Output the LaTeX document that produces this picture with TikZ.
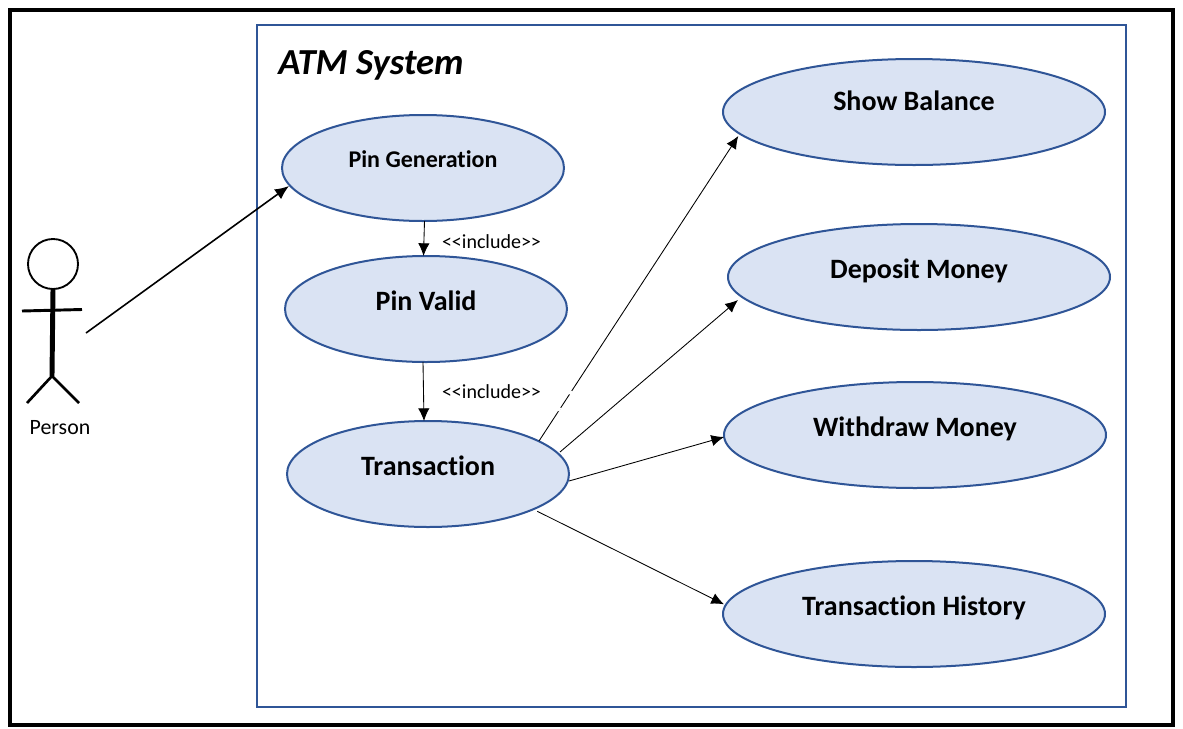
\documentclass[tikz,border=0pt]{standalone}
\usepackage{fontspec}
\setmainfont[Ligatures=NoCommon]{Carlito}
\usetikzlibrary{arrows.meta,shapes.geometric}
\definecolor{ubord}{HTML}{2F5597}
\definecolor{ufill}{HTML}{DAE3F3}
\tikzset{
  x=0.75pt,y=-0.75pt,
  usecase/.style={draw=ubord,fill=ufill,ellipse,line width=1.5pt,inner sep=0pt,outer sep=0pt,minimum height=79.5pt},
  smallcase/.style={usecase,minimum width=211.5pt},
  bigcase/.style={usecase,minimum width=286.5pt},
  cap18/.style={font=\fontsize{21}{24}\selectfont\bfseries,inner sep=0pt},
  cap16/.style={font=\fontsize{18}{20}\selectfont\bfseries,inner sep=0pt},
  plain12/.style={font=\fontsize{15}{18}\selectfont,inner sep=0pt},
  conn/.style={-{Latex[length=9.5pt,width=8.5pt]},line width=0.65pt,black},
  connthick/.style={-{Latex[length=10.5pt,width=9pt]},line width=1.2pt,black},
  gapmark/.style={white,line width=1.6pt},
}
\begin{document}
\begin{tikzpicture}
\useasboundingbox (0,0) rectangle (1183,729);
\fill[white] (0,0) rectangle (1183,729);
\node[draw=black,line width=3.4pt,minimum width=1163*0.75pt,minimum height=715*0.75pt,inner sep=0pt,outer sep=0pt,anchor=north west] (frame) at (10,10) {};
\node[draw=ubord,line width=1.4pt,minimum width=869*0.75pt,minimum height=682*0.75pt,inner sep=0pt,outer sep=0pt,anchor=north west] (system) at (257,25) {};
\node[font=\fontsize{27.5}{30}\selectfont\bfseries\itshape,inner sep=0pt,anchor=west] (title) at (278,65) {ATM System};

\node[smallcase] (pg) at (423,168) {};
\node[smallcase] (pv) at (426,309) {};
\node[smallcase] (tr) at (428,474) {};
\node[bigcase] (sb) at (914,112) {};
\node[bigcase] (dm) at (919,277) {};
\node[bigcase] (wm) at (915,435) {};
\node[bigcase] (th) at (914,614) {};

\node[cap16] (pgt) at (423,159) {Pin Generation};
\node[cap18] (pvt) at (426,301) {Pin Valid};
\node[cap18] (trt) at (428,466) {Transaction};
\node[cap18] (sbt) at (914,101) {Show Balance};
\node[cap18] (dmt) at (919,271) {Deposit Money};
\node[cap18] (wmt) at (915,429) {Withdraw Money};
\node[cap18] (tht) at (914,608) {Transaction History};
\node[plain12] (inc1) at (491.5,242) {<{}<include>{}>};
\node[plain12] (inc2) at (491.5,392) {<{}<include>{}>};

% actor
\node[draw=black,circle,line width=1.4pt,fill=white,minimum size=50*0.75pt,inner sep=0pt,outer sep=0pt] (head) at (53,264) {};
\coordinate (hip) at (52,376);
\coordinate (armL) at (22,311);
\coordinate (armR) at (82,309.5);
\coordinate (legL) at (27,403);
\coordinate (legR) at (79,403);
\draw[line width=3.7pt] (head.south) -- (hip);
\draw[line width=2.2pt] (armL) -- (armR);
\draw[line width=2pt] (legL) -- (hip) -- (legR);
\node[font=\fontsize{16.4}{19}\selectfont,inner sep=0pt] (person) at (60,428) {Person};

% connectors
\coordinate (actorhand) at (86,333);
\draw[connthick] (actorhand) -- ([shift={(-134,18)}]pg.center);
\draw[conn] ([shift={(1.5,53)}]pg.center) -- ([shift={(-2.5,-53)}]pv.center);
\draw[conn] ([shift={(-3,53)}]pv.center) -- ([shift={(-4,-53)}]tr.center);
\draw[conn] ([shift={(111,-33)}]tr.center) -- ([shift={(-175.7,24)}]sb.center);
\draw[conn] ([shift={(132,-22)}]tr.center) -- ([shift={(-181,23)}]dm.center);
\draw[conn] ([shift={(141,7)}]tr.center) -- ([shift={(-191,2)}]wm.center);
\draw[conn] ([shift={(109.3,37.3)}]tr.center) -- ([shift={(-190,-9.7)}]th.center);
% small breaks in the long line to Show Balance
\coordinate (gapA) at (570.7,392.7);
\coordinate (gapB) at (559.3,409.3);
\draw[gapmark] ([shift={(1.1,-1.6)}]gapA) -- ([shift={(-1.1,1.6)}]gapA);
\draw[gapmark] ([shift={(1.1,-1.6)}]gapB) -- ([shift={(-1.1,1.6)}]gapB);
\end{tikzpicture}
\end{document}
